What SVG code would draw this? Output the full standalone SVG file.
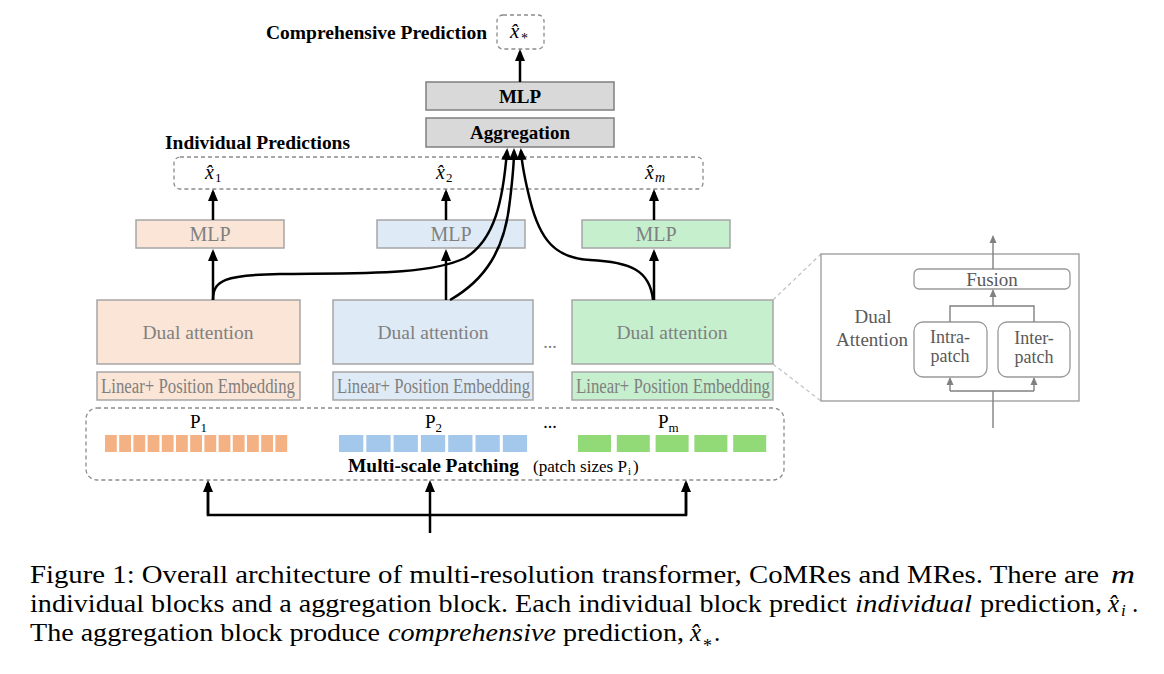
<svg xmlns="http://www.w3.org/2000/svg" width="1164" height="674" viewBox="0 0 1164 674">
<defs>
<style>
.serif{font-family:"Liberation Serif","Times New Roman",serif}
.bold{font-family:"Liberation Serif","Times New Roman",serif;font-weight:bold;fill:#000}
.glab{font-family:"Liberation Serif","Times New Roman",serif;fill:#808080}
.plab{font-family:"Liberation Serif","Times New Roman",serif;fill:#595959}
.math{font-family:"Liberation Serif","Times New Roman",serif;fill:#000}
.it{font-style:italic}
.cap{font-family:"Liberation Serif","Times New Roman",serif;font-size:25px;fill:#000}
.dash{fill:none;stroke:#8c8c8c;stroke-width:1.3;stroke-dasharray:4 3}
.gbox{fill:#d9d9d9;stroke:#7f7f7f;stroke-width:1.5}
.peach{fill:#fbe5d6;stroke:#a6a6a6;stroke-width:1.5}
.blue{fill:#deebf7;stroke:#a6a6a6;stroke-width:1.5}
.green{fill:#c6efce;stroke:#a6a6a6;stroke-width:1.5}
.arr{fill:none;stroke:#000;stroke-width:2.5;marker-end:url(#ah)}
.wire{fill:none;stroke:#000;stroke-width:2.5}
.garr{fill:none;stroke:#808080;stroke-width:1.4;marker-end:url(#gah)}
.gwire{fill:none;stroke:#808080;stroke-width:1.4}
.pbox{fill:#fff;stroke:#999;stroke-width:1.3}
</style>
<marker id="ah" markerUnits="userSpaceOnUse" viewBox="0 0 12 12" refX="9" refY="6" markerWidth="12" markerHeight="12" orient="auto">
<path d="M0,1 L12,6 L0,11 z" fill="#000"/>
</marker>
<marker id="gah" markerUnits="userSpaceOnUse" viewBox="0 0 8 8" refX="6.5" refY="4" markerWidth="8" markerHeight="8" orient="auto">
<path d="M0,0.5 L8,4 L0,7.5 z" fill="#808080"/>
</marker>
</defs>
<rect width="1164" height="674" fill="#fff"/>

<g id="comprehensive-prediction">
<text class="bold" x="266" y="39" font-size="18" textLength="221" lengthAdjust="spacingAndGlyphs">Comprehensive Prediction</text>
<rect class="dash" x="497" y="15" width="47" height="34" rx="6"/>
<text class="math" x="510" y="38" font-size="21"><tspan class="it">x̂</tspan><tspan x="521" dy="5" font-size="14">*</tspan></text>
</g>

<g id="mlp-top">
<rect class="gbox" x="426" y="82" width="188" height="28"/>
<text class="bold" x="520" y="103" font-size="19" text-anchor="middle">MLP</text>
</g>
<g id="aggregation">
<rect class="gbox" x="426" y="118" width="188" height="29"/>
<text class="bold" x="520" y="139" font-size="19" text-anchor="middle">Aggregation</text>
</g>

<g id="individual-predictions">
<text class="bold" x="165" y="149" font-size="18" textLength="185" lengthAdjust="spacingAndGlyphs">Individual Predictions</text>
<rect class="dash" x="174" y="157" width="529" height="32" rx="6"/>
<text class="math" x="205" y="179" font-size="20"><tspan class="it">x̂</tspan><tspan x="215" dy="3" font-size="13">1</tspan></text>
<text class="math" x="436" y="179" font-size="20"><tspan class="it">x̂</tspan><tspan x="446" dy="3" font-size="13">2</tspan></text>
<text class="math" x="645" y="179" font-size="20"><tspan class="it">x̂</tspan><tspan class="it" x="655" dy="3" font-size="14">m</tspan></text>
</g>

<g id="mlp-1">
<rect class="peach" x="136" y="220" width="148" height="28"/>
<text class="glab" x="210" y="241" font-size="20" text-anchor="middle">MLP</text>
</g>
<g id="mlp-2">
<rect class="blue" x="377" y="220" width="148" height="28"/>
<text class="glab" x="451" y="241" font-size="20" text-anchor="middle">MLP</text>
</g>
<g id="mlp-m">
<rect class="green" x="582" y="220" width="148" height="28"/>
<text class="glab" x="656" y="241" font-size="20" text-anchor="middle">MLP</text>
</g>

<g id="dual-attention-1">
<rect class="peach" x="97" y="300" width="203" height="64"/>
<text class="glab" x="198" y="339" font-size="19.5" text-anchor="middle">Dual attention</text>
</g>
<g id="dual-attention-2">
<rect class="blue" x="333" y="300" width="200" height="64"/>
<text class="glab" x="433" y="339" font-size="19.5" text-anchor="middle">Dual attention</text>
</g>
<g id="dual-attention-m">
<rect class="green" x="572" y="300" width="201" height="64"/>
<text class="glab" x="672" y="339" font-size="19.5" text-anchor="middle">Dual attention</text>
</g>
<text class="glab" x="550" y="348" font-size="18" text-anchor="middle">...</text>

<g id="embedding-1">
<rect class="peach" x="97" y="372" width="203" height="28"/>
<text class="glab" x="101" y="393" font-size="20.5" textLength="194" lengthAdjust="spacingAndGlyphs">Linear+ Position Embedding</text>
</g>
<g id="embedding-2">
<rect class="blue" x="333" y="372" width="200" height="28"/>
<text class="glab" x="337" y="393" font-size="20.5" textLength="193" lengthAdjust="spacingAndGlyphs">Linear+ Position Embedding</text>
</g>
<g id="embedding-m">
<rect class="green" x="572" y="372" width="201" height="28"/>
<text class="glab" x="576" y="393" font-size="20.5" textLength="194" lengthAdjust="spacingAndGlyphs">Linear+ Position Embedding</text>
</g>

<g id="multi-scale-patching">
<rect class="dash" x="86" y="408" width="698" height="72" rx="11"/>
<g fill="#f4b183">
<rect x="105" y="435" width="11.8" height="17"/><rect x="119.2" y="435" width="11.8" height="17"/><rect x="133.4" y="435" width="11.8" height="17"/><rect x="147.6" y="435" width="11.8" height="17"/><rect x="161.8" y="435" width="11.8" height="17"/><rect x="176" y="435" width="11.8" height="17"/><rect x="190.2" y="435" width="11.8" height="17"/><rect x="204.4" y="435" width="11.8" height="17"/><rect x="218.6" y="435" width="11.8" height="17"/><rect x="232.8" y="435" width="11.8" height="17"/><rect x="247" y="435" width="11.8" height="17"/><rect x="261.2" y="435" width="11.8" height="17"/><rect x="275.4" y="435" width="11.8" height="17"/>
</g>
<g fill="#a4c8ec">
<rect x="339" y="435" width="24.3" height="17"/><rect x="366.3" y="435" width="24.3" height="17"/><rect x="393.6" y="435" width="24.3" height="17"/><rect x="420.9" y="435" width="24.3" height="17"/><rect x="448.2" y="435" width="24.3" height="17"/><rect x="475.5" y="435" width="24.3" height="17"/><rect x="502.8" y="435" width="24.3" height="17"/>
</g>
<g fill="#92d978">
<rect x="578" y="435" width="33" height="17"/><rect x="616.8" y="435" width="33" height="17"/><rect x="655.6" y="435" width="33" height="17"/><rect x="694.4" y="435" width="33" height="17"/><rect x="733.2" y="435" width="33" height="17"/>
</g>
<text class="serif" x="190" y="428" font-size="19">P<tspan dy="4" font-size="13">1</tspan></text>
<text class="serif" x="425" y="428" font-size="19">P<tspan dy="4" font-size="13">2</tspan></text>
<text class="serif" x="658" y="428" font-size="19">P<tspan dy="4" font-size="13">m</tspan></text>
<text class="serif" x="550" y="428" font-size="18" text-anchor="middle">...</text>
<text class="bold" x="348" y="472" font-size="18" textLength="171" lengthAdjust="spacingAndGlyphs">Multi-scale Patching</text>
<text class="serif" x="533" y="472" font-size="17"><tspan textLength="94" lengthAdjust="spacingAndGlyphs">(patch sizes P</tspan><tspan x="628" dy="3" font-size="11">i</tspan><tspan x="633" dy="-3">)</tspan></text>
</g>

<g id="dual-attention-detail">
<line x1="773" y1="300" x2="821" y2="254" stroke="#c0c0c0" stroke-width="1.2" stroke-dasharray="4 3"/>
<line x1="773" y1="364" x2="821" y2="401" stroke="#c0c0c0" stroke-width="1.2" stroke-dasharray="4 3"/>
<rect class="pbox" x="821" y="254" width="258" height="147" stroke="#a6a6a6" stroke-width="1.5"/>
<text class="plab" font-size="19" text-anchor="middle"><tspan x="873" y="323">Dual</tspan><tspan x="872" y="346">Attention</tspan></text>
<g id="fusion">
<rect class="pbox" x="914" y="269" width="156" height="20" rx="5"/>
<text class="plab" x="992" y="286" font-size="19" text-anchor="middle">Fusion</text>
</g>
<g id="intra-patch">
<rect class="pbox" x="914" y="322" width="73" height="55" rx="9"/>
<text class="plab" font-size="18" text-anchor="middle"><tspan x="950" y="343">Intra-</tspan><tspan x="950" y="362">patch</tspan></text>
</g>
<g id="inter-patch">
<rect class="pbox" x="998" y="322" width="72" height="55" rx="9"/>
<text class="plab" font-size="18" text-anchor="middle"><tspan x="1034" y="344">Inter-</tspan><tspan x="1034" y="363">patch</tspan></text>
</g>
<g id="detail-connectors">
<line class="garr" x1="993" y1="269" x2="993" y2="236.5"/>
<polyline class="gwire" points="950,322 950,306 1034,306 1034,322"/>
<line class="garr" x1="993" y1="306" x2="993" y2="290.5"/>
<line class="gwire" x1="993" y1="428" x2="993" y2="391"/>
<line class="gwire" x1="950" y1="391" x2="1034" y2="391"/>
<line class="garr" x1="950" y1="391" x2="950" y2="378.5"/>
<line class="garr" x1="1034" y1="391" x2="1034" y2="378.5"/>
</g>
</g>

<g id="connectors">
<line class="arr" x1="520" y1="82" x2="520" y2="52"/>
<line class="arr" x1="213" y1="220" x2="213" y2="192"/>
<line class="arr" x1="446" y1="220" x2="446" y2="192"/>
<line class="arr" x1="654" y1="220" x2="654" y2="192"/>
<line class="arr" x1="213" y1="300" x2="213" y2="252"/>
<line class="arr" x1="446" y1="300" x2="446" y2="252"/>
<line class="arr" x1="654" y1="300" x2="654" y2="252"/>
<path class="arr" d="M213,300 C213,280 225,275 280,274 C360,273 430,275 465,258 C495,240 503,200 507,151"/>
<path class="arr" d="M450,300 C485,280 505,250 510,200 C513,175 514,162 514,151"/>
<path class="arr" d="M653,300 C650,270 630,262 590,260 C555,258 540,240 530,200 C525,180 522,165 521,151"/>
<polyline class="wire" points="208,483 208,515 686,515 686,483"/>
<line class="arr" x1="208" y1="515" x2="208" y2="483"/>
<line class="arr" x1="686" y1="515" x2="686" y2="483"/>
<line class="arr" x1="430" y1="533" x2="430" y2="483"/>
</g>

<g id="caption">
<text class="cap" y="583"><tspan x="30" textLength="1069" lengthAdjust="spacingAndGlyphs">Figure 1: Overall architecture of multi-resolution transformer, CoMRes and MRes. There are</tspan><tspan class="it" x="1111" textLength="24" lengthAdjust="spacingAndGlyphs">m</tspan></text>
<text class="cap" y="612"><tspan x="30" textLength="817" lengthAdjust="spacingAndGlyphs">individual blocks and a aggregation block. Each individual block predict</tspan><tspan class="it" x="855" textLength="117" lengthAdjust="spacingAndGlyphs">individual</tspan><tspan x="980" textLength="122" lengthAdjust="spacingAndGlyphs">prediction,</tspan><tspan class="it" x="1108">x̂</tspan><tspan class="it" x="1121" dy="4" font-size="17">i</tspan><tspan x="1132" dy="-4">.</tspan></text>
<text class="cap" y="641"><tspan x="30" textLength="350" lengthAdjust="spacingAndGlyphs">The aggregation block produce</tspan><tspan class="it" x="388" textLength="168" lengthAdjust="spacingAndGlyphs">comprehensive</tspan><tspan x="563" textLength="121" lengthAdjust="spacingAndGlyphs">prediction,</tspan><tspan class="it" x="690">x̂</tspan><tspan x="703" dy="11" font-size="18">*</tspan><tspan x="714" dy="-11">.</tspan></text>
</g>
</svg>
